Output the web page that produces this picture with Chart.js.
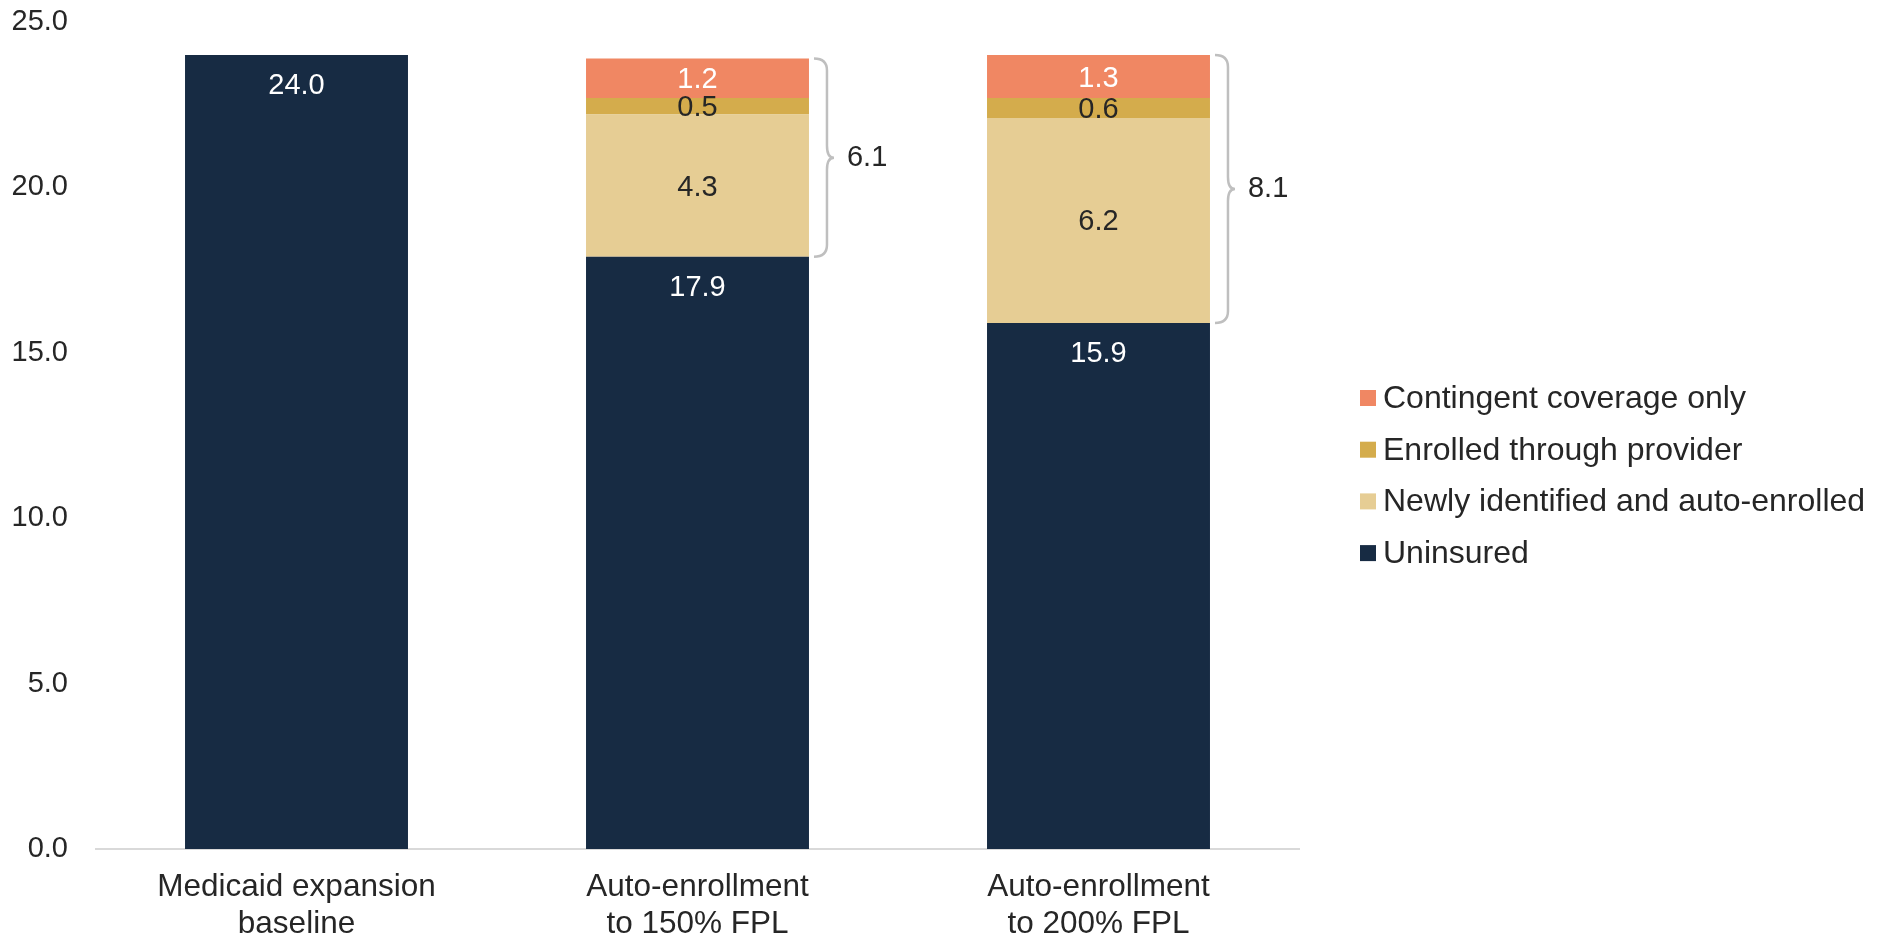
<!DOCTYPE html>
<html>
<head>
<meta charset="utf-8">
<script src="https://cdn.jsdelivr.net/npm/chart.js@4"></script>
<style>
  html, body { margin: 0; padding: 0; background: #ffffff; }
  #wrap { width: 1880px; height: 938px; position: relative; }
</style>
</head>
<body>
<div id="wrap"><canvas id="coverageChart" width="1880" height="938"></canvas></div>
<script>
// Chart data
const categories = [
    ['Medicaid expansion', 'baseline'],
    ['Auto-enrollment', 'to 150% FPL'],
    ['Auto-enrollment', 'to 200% FPL']
];
const seriesNames = ['Uninsured', 'Newly identified and auto-enrolled', 'Enrolled through provider', 'Contingent coverage only'];
const uninsured = [24.0, 17.9, 15.9];
const newlyEnrolled = [null, 4.3, 6.2];
const providerEnrolled = [null, 0.5, 0.6];
const contingentOnly = [null, 1.2, 1.3];
const braceTotals = [null, 6.1, 8.1];
const yTicks = [0, 5, 10, 15, 20, 25];

const seriesColors = ['#172b43', '#e6cd94', '#d4ac4c', '#f08763'];
const labelColors = ['#ffffff', '#262626', '#262626', '#ffffff'];
const TEXT = '#262626';
const FONT = "'Liberation Sans', Arial, sans-serif";

// Value labels inside the segments
const valueLabels = {
    id: 'valueLabels',
    afterDatasetsDraw(chart) {
        const ctx = chart.ctx;
        ctx.save();
        ctx.font = `29px ${FONT}`;
        ctx.textAlign = 'center';
        ctx.textBaseline = 'middle';
        chart.data.datasets.forEach((ds, di) => {
            const meta = chart.getDatasetMeta(di);
            meta.data.forEach((bar, i) => {
                const v = ds.data[i];
                if (v === null || v === undefined) return;
                ctx.fillStyle = labelColors[di];
                const y = di === 0 ? bar.y + 31 : (bar.y + bar.base) / 2 + 2;
                ctx.fillText(v.toFixed(1), bar.x, y);
            });
        });
        ctx.restore();
    }
};

// Curly braces next to the stacked gains
const braces = {
    id: 'braces',
    afterDatasetsDraw(chart) {
        const ctx = chart.ctx;
        const base = chart.getDatasetMeta(0).data;
        const topMeta = chart.getDatasetMeta(chart.data.datasets.length - 1).data;
        ctx.save();
        braceTotals.forEach((total, i) => {
            if (total === null) return;
            const top = topMeta[i].y;
            const bottom = base[i].y;
            const mid = (top + bottom) / 2;
            const x0 = base[i].x + base[i].width / 2 + 5;
            const xv = x0 + 13;
            const xt = x0 + 20;
            const r = 12;
            ctx.strokeStyle = '#bfbfbf';
            ctx.lineWidth = 2.5;
            ctx.beginPath();
            ctx.moveTo(x0, top);
            ctx.quadraticCurveTo(xv, top, xv, top + r);
            ctx.lineTo(xv, mid - r);
            ctx.quadraticCurveTo(xv, mid, xt, mid);
            ctx.quadraticCurveTo(xv, mid, xv, mid + r);
            ctx.lineTo(xv, bottom - r);
            ctx.quadraticCurveTo(xv, bottom, x0, bottom);
            ctx.stroke();
            ctx.fillStyle = TEXT;
            ctx.font = `29px ${FONT}`;
            ctx.textAlign = 'left';
            ctx.textBaseline = 'middle';
            ctx.fillText(total.toFixed(1), xt + 13, mid);
        });
        ctx.restore();
    }
};

// Legend on the right, top entry is the top segment
const sideLegend = {
    id: 'sideLegend',
    afterDraw(chart) {
        const ctx = chart.ctx;
        const x = chart.chartArea.right + 61;
        const y0 = 398;
        const step = 51.7;
        ctx.save();
        ctx.font = `32px ${FONT}`;
        ctx.textBaseline = 'middle';
        ctx.textAlign = 'left';
        const ds = chart.data.datasets.slice().reverse();
        ds.forEach((d, k) => {
            const y = y0 + k * step;
            ctx.fillStyle = d.backgroundColor;
            ctx.fillRect(x, y - 8, 16, 16);
            ctx.fillStyle = TEXT;
            ctx.fillText(d.label, x + 23, y + 1);
        });
        ctx.restore();
    }
};

const seriesData = [uninsured, newlyEnrolled, providerEnrolled, contingentOnly];

new Chart(document.getElementById('coverageChart'), {
    type: 'bar',
    data: {
        labels: categories,
        datasets: seriesData.map((d, i) => ({
            label: seriesNames[i],
            data: d,
            backgroundColor: seriesColors[i],
            borderWidth: 0,
            barPercentage: 0.556,
            categoryPercentage: 1.0
        }))
    },
    options: {
        responsive: false,
        animation: false,
        layout: { padding: { left: 10, right: 581, top: 22, bottom: 0 } },
        plugins: {
            legend: { display: false },
            tooltip: { enabled: false }
        },
        scales: {
            x: {
                stacked: true,
                grid: { display: false, drawTicks: false },
                border: { display: true, color: '#d9d9d9', width: 2 },
                ticks: { color: TEXT, padding: 20, font: { family: FONT, size: 31.5, lineHeight: 1.18 } },
                afterFit(scale) { scale.height = 89; }
            },
            y: {
                stacked: true,
                min: 0,
                max: 25,
                grid: { display: false, drawTicks: false },
                border: { display: false },
                afterBuildTicks(scale) { scale.ticks = yTicks.map(v => ({ value: v })); },
                ticks: {
                    color: TEXT,
                    padding: 28,
                    font: { family: FONT, size: 29 },
                    callback: v => Number(v).toFixed(1)
                },
                afterFit(scale) {
                    scale.width = 86;
                    // keep the top label from pushing the plot down
                    scale.paddingTop = 0;
                }
            }
        }
    },
    plugins: [valueLabels, braces, sideLegend]
});
</script>
</body>
</html>
